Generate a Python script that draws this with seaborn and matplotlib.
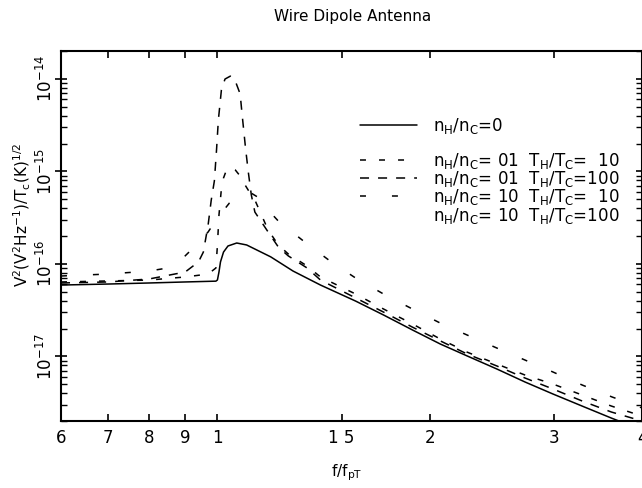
import matplotlib
matplotlib.use("Agg")
import matplotlib.pyplot as plt
import seaborn as sns
import numpy as np
import pandas as pd
from matplotlib.lines import Line2D
from matplotlib.ticker import FixedLocator, FixedFormatter, LogLocator, LogFormatterMathtext, NullFormatter, NullLocator

# ---- data ----
x_ticks = [0.6, 0.7, 0.8, 0.9, 1.0, 1.5, 2.0, 3.0, 4.0]
x_tick_labels = ["6", "7", "8", "9", "1", "1 5", "2", "3", "4"]
y_ticks = [1e-17, 1e-16, 1e-15, 1e-14]

x_solid = [0.6, 0.7, 0.8, 0.9, 0.995, 1.0, 1.005, 1.01, 1.02, 1.035, 1.065, 1.1, 1.19, 1.28, 1.4,
           1.57, 1.72, 1.89, 2.07, 2.26, 2.49, 2.73, 2.99, 3.29, 3.62, 4.0]
y_solid = [5.9e-17, 6.05e-17, 6.21e-17, 6.37e-17, 6.5e-17, 6.7e-17, 8.16e-17, 1.05e-16, 1.34e-16, 1.56e-16,
           1.68e-16, 1.60e-16, 1.19e-16, 8.36e-17, 5.9e-17, 3.96e-17, 2.80e-17, 1.93e-17, 1.36e-17,
           1.01e-17, 7.30e-18, 5.28e-18, 3.92e-18, 2.90e-18, 2.15e-18, 1.6e-18]

x_a = [0.6, 0.8, 0.9, 0.97, 0.995, 1.0, 1.005, 1.012, 1.02, 1.03, 1.043, 1.06, 1.077, 1.09, 1.11, 1.13,
       1.18, 1.22, 1.26, 1.34, 1.4, 1.57, 1.72, 1.89, 2.07, 2.26, 2.49, 2.73, 2.99, 3.29, 3.62, 4.0]
y_a = [6.37e-17, 6.68e-17, 7.21e-17, 7.76e-17, 9.02e-17, 1.60e-16, 3.37e-16, 5.98e-16, 8.47e-16, 1.035e-15,
       1.11e-15, 1.035e-15, 8.9e-16, 7.48e-16, 5.98e-16, 4.90e-16, 2.32e-16, 1.60e-16, 1.28e-16, 9.48e-17,
       7.21e-17, 4.72e-17, 3.25e-17, 2.24e-17, 1.54e-17, 1.11e-17, 8.26e-18, 6.28e-18, 5.02e-18, 3.82e-18,
       2.90e-18, 2.26e-18]

x_b = [0.6, 0.7, 0.8, 0.9, 0.94, 0.955, 0.97, 0.98, 0.99, 0.997, 1.003, 1.013, 1.025, 1.043, 1.06, 1.077,
       1.083, 1.096, 1.106, 1.117, 1.13, 1.18, 1.22, 1.26, 1.34, 1.4, 1.57, 1.72, 1.89, 2.07, 2.26, 2.49,
       2.73, 2.99, 3.29, 3.62, 4.0]
y_b = [6.21e-17, 6.37e-17, 6.86e-17, 8.16e-17, 1.05e-16, 1.34e-16, 2.63e-16, 4.90e-16, 7.87e-16, 1.70e-15,
       3.59e-15, 7.57e-15, 9.95e-15, 1.07e-14, 9.48e-15, 6.86e-15, 4.38e-15, 1.79e-15, 9.84e-16, 5.55e-16,
       3.63e-16, 2.21e-16, 1.52e-16, 1.22e-16, 9.02e-17, 6.68e-17, 4.28e-17, 3.01e-17, 2.07e-17, 1.47e-17,
       1.06e-17, 7.87e-18, 5.83e-18, 4.44e-18, 3.29e-18, 2.50e-18, 2.00e-18]

x_c = [0.6, 0.7, 0.8, 0.85, 0.9, 0.93, 0.97, 1.0, 1.04, 1.08, 1.11, 1.14, 1.18, 1.22, 1.33, 1.45, 1.57,
       1.72, 1.89, 2.07, 2.26, 2.49, 2.73, 2.99, 3.29, 3.63, 4.0]
y_c = [7.39e-17, 7.76e-17, 8.36e-17, 9.02e-17, 1.22e-16, 1.56e-16, 2.21e-16, 3.13e-16, 4.55e-16, 5.69e-16,
       5.98e-16, 5.28e-16, 3.82e-16, 2.90e-16, 1.72e-16, 1.05e-16, 7.03e-17, 4.72e-17, 3.25e-17, 2.29e-17,
       1.70e-17, 1.23e-17, 9.12e-18, 6.78e-18, 4.90e-18, 3.63e-18, 2.77e-18]

label_0 = r"$\mathregular{n_H/n_C}$=0"
label_a = r"$\mathregular{n_H/n_C}$= 01  $\mathregular{T_H/T_C}$=  10"
label_b = r"$\mathregular{n_H/n_C}$= 01  $\mathregular{T_H/T_C}$=100"
label_c = r"$\mathregular{n_H/n_C}$= 10  $\mathregular{T_H/T_C}$=  10"
label_d = r"$\mathregular{n_H/n_C}$= 10  $\mathregular{T_H/T_C}$=100"

# ---- style ----
sns.set_theme(style="white")
plt.rcParams["font.family"] = ["DejaVu Sans"]
plt.rcParams["mathtext.fontset"] = "dejavusans"
plt.rcParams["lines.scale_dashes"] = False
plt.rcParams["text.color"] = "black"
plt.rcParams["axes.labelcolor"] = "black"

W, H = 642, 488
fig = plt.figure(figsize=(W / 100, H / 100), dpi=100)
ax = fig.add_axes([61 / W, 1 - 421 / H, 581 / W, 370 / H])
ax.set_xscale("log")
ax.set_yscale("log")

LW = 1.1
dash_a = (0, (4.3, 9.4))
dash_b = (0, (6.5, 6.5))
dash_c = (0, (4.3, 18.7))

sns.lineplot(x=x_solid, y=y_solid, ax=ax, color="black", linewidth=LW, estimator=None, sort=False)
sns.lineplot(x=x_a, y=y_a, ax=ax, color="black", linewidth=LW, linestyle=dash_a, estimator=None, sort=False)
sns.lineplot(x=x_b, y=y_b, ax=ax, color="black", linewidth=LW, linestyle=dash_b, estimator=None, sort=False)
sns.lineplot(x=x_c, y=y_c, ax=ax, color="black", linewidth=LW, linestyle=dash_c, estimator=None, sort=False)

ax.set_xlim(0.6, 4.0)
ax.set_ylim(2e-18, 2e-14)

ax.xaxis.set_major_locator(FixedLocator(x_ticks))
ax.xaxis.set_major_formatter(FixedFormatter(x_tick_labels))
ax.xaxis.set_minor_locator(NullLocator())
ax.yaxis.set_major_locator(FixedLocator(y_ticks))
ax.yaxis.set_major_formatter(LogFormatterMathtext())
ax.yaxis.set_minor_locator(LogLocator(base=10, subs=np.arange(2, 10), numticks=20))
ax.yaxis.set_minor_formatter(NullFormatter())

ax.tick_params(axis="x", which="major", direction="in", length=5, width=1.2, top=True, bottom=True,
               labelsize=12, pad=6, colors="black")
ax.tick_params(axis="y", which="major", direction="inout", length=9, width=1.2, left=True, right=True,
               labelsize=12, pad=-1, labelrotation=90, colors="black")
ax.tick_params(axis="y", which="minor", direction="in", length=4, width=1.0, left=True, right=True,
               colors="black")
for lab in ax.get_yticklabels():
    lab.set_va("center")

for s in ax.spines.values():
    s.set_color("black")
    s.set_linewidth(1.5)

ax.set_xlabel("")
ax.set_ylabel("")

# legend
h0 = Line2D([], [], color="black", linewidth=LW)
hb = Line2D([], [], linestyle="none")
ha_ = Line2D([], [], color="black", linewidth=LW, linestyle=dash_a)
hb_ = Line2D([], [], color="black", linewidth=LW, linestyle=dash_b)
hc_ = Line2D([], [], color="black", linewidth=LW, linestyle=dash_c)
hd_ = Line2D([], [], linestyle="none")
ax.legend([h0, hb, ha_, hb_, hc_, hd_], [label_0, " ", label_a, label_b, label_c, label_d],
          loc="upper left", bbox_to_anchor=(360 / W, 1 - 116 / H), bbox_transform=fig.transFigure,
          frameon=False, handlelength=3.4, handletextpad=1.0, labelspacing=-0.1, fontsize=12,
          borderpad=0, borderaxespad=0, labelcolor="black")

fig.text(353 / W, 1 - 16 / H, "Wire Dipole Antenna", ha="center", va="center", fontsize=11, color="black")
fig.text(22 / W, 1 - 215 / H, r"$\mathregular{V^2(V^2Hz^{-1})/T_c(K)^{1/2}}$", rotation=90,
         ha="center", va="center", fontsize=11, color="black")
fig.text(347 / W, 1 - 473 / H, r"$\mathregular{f/f_{pT}}$", ha="center", va="center", fontsize=11,
         color="black")

fig.savefig("out.png", dpi=100)
